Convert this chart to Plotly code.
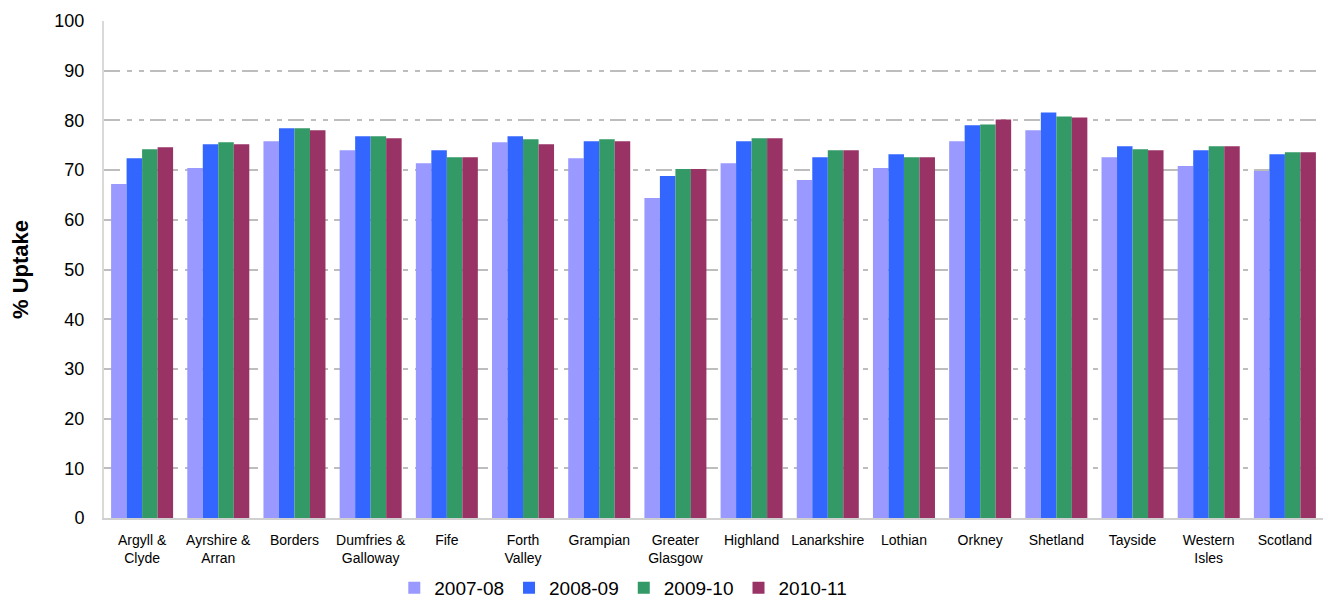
import plotly.graph_objects as go

categories = ["Argyll &<br>Clyde", "Ayrshire &<br>Arran", "Borders", "Dumfries &<br>Galloway",
              "Fife", "Forth<br>Valley", "Grampian", "Greater<br>Glasgow", "Highland",
              "Lanarkshire", "Lothian", "Orkney", "Shetland", "Tayside", "Western<br>Isles",
              "Scotland"]

v2007_08 = [67.2, 70.4, 75.8, 74.0, 71.4, 75.6, 72.4, 64.4, 71.4, 68.0, 70.4, 75.8, 78.0, 72.6, 70.8, 69.8]
v2008_09 = [72.4, 75.2, 78.4, 76.8, 74.0, 76.8, 75.8, 68.8, 75.8, 72.6, 73.2, 79.0, 81.6, 74.8, 74.0, 73.2]
v2009_10 = [74.2, 75.6, 78.4, 76.8, 72.6, 76.2, 76.2, 70.2, 76.4, 74.0, 72.6, 79.2, 80.8, 74.2, 74.8, 73.6]
v2010_11 = [74.6, 75.2, 78.0, 76.4, 72.6, 75.2, 75.8, 70.2, 76.4, 74.0, 72.6, 80.2, 80.6, 74.0, 74.8, 73.6]

series_names = ["2007-08", "2008-09", "2009-10", "2010-11"]
series_values = [v2007_08, v2008_09, v2009_10, v2010_11]
colors = ["#9999ff", "#3366ff", "#339966", "#993366"]

yticks = [0, 10, 20, 30, 40, 50, 60, 70, 80, 90, 100]

FONT = "Arial, Liberation Sans, sans-serif"

fig = go.Figure()
for name, vals, col in zip(series_names, series_values, colors):
    fig.add_trace(go.Bar(x=categories, y=vals, name=name, marker=dict(color=col, line=dict(width=0)),
                         hoverinfo="x+y+name"))

fig.update_layout(
    width=1325, height=607,
    margin=dict(l=104, r=2, t=21, b=89, autoexpand=False),
    plot_bgcolor="white", paper_bgcolor="white",
    barmode="group", bargap=0.186, bargroupgap=0,
    font=dict(family=FONT, color="#000000"),
    showlegend=True,
    legend=dict(orientation="h", x=0.426, xanchor="center",
                yref="container", y=0.0, yanchor="bottom",
                font=dict(size=19, family=FONT, color="#000000"),
                itemwidth=30, tracegroupgap=0, bgcolor="rgba(0,0,0,0)"),
)

fig.update_xaxes(
    showgrid=False, showline=True, linecolor="#d0d0d0", linewidth=2,
    ticks="", tickfont=dict(size=14, family=FONT, color="#000000"),
    ticklabelstandoff=8, tickangle=0,
)

fig.update_yaxes(
    range=[0, 100], tickvals=yticks, ticktext=[str(t) for t in yticks],
    showgrid=True, gridcolor="#bdbdbd", gridwidth=1.5, griddash="16px,7px,5px,7px,5px,6px",
    showline=True, linecolor="#d9d9d9", linewidth=2, zeroline=False,
    ticks="", tickfont=dict(size=18, family=FONT, color="#000000"),
    ticklabelstandoff=14,
    title=dict(text="<b>% Uptake</b>", font=dict(size=22, family=FONT, color="#000000"), standoff=20),
)

fig.write_html("out.html")
